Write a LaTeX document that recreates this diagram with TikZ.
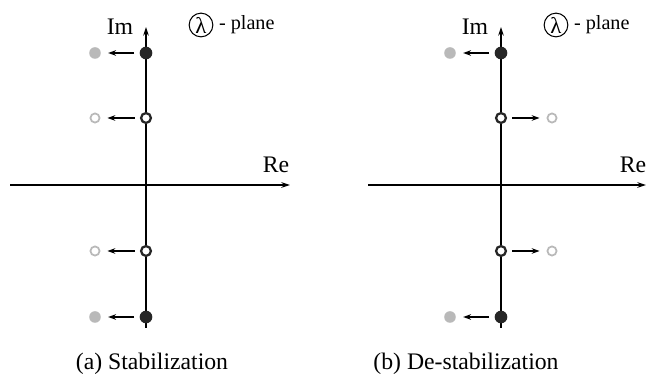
\documentclass[tikz,border=0pt]{standalone}
\usepackage{fontspec}
\setmainfont{Liberation Serif}
\usetikzlibrary{arrows.meta, positioning}

\tikzset{
  pole/.style={circle, fill=black!85, inner sep=0pt, minimum size=7.2pt},
  ring/.style={circle, draw=black!85, line width=1.3pt, fill=white, inner sep=0pt, minimum size=5.6pt},
  gpole/.style={circle, fill=gray!55, inner sep=0pt, minimum size=6.6pt},
  gring/.style={circle, draw=gray!55, line width=1pt, inner sep=0pt, minimum size=5.2pt},
  move/.style={-{Stealth[length=4.5pt,width=3.2pt]}, line width=0.6pt, shorten <=3pt, shorten >=4pt},
  axis/.style={-{Stealth[length=5pt,width=3.2pt]}, line width=0.6pt},
  lbl/.style={font=\fontsize{13.5}{15}\selectfont, inner sep=0pt},
  lam/.style={circle, draw, line width=0.6pt, inner sep=0pt, minimum size=13.5pt, font=\fontsize{13}{15}\selectfont},
  plane/.style={inner sep=0pt, font=\fontsize{11.5}{13}\selectfont}
}

\begin{document}
\begin{tikzpicture}[x=0.02cm, y=-0.02cm]
    \useasboundingbox (0,0) rectangle (654,381);

    % (a) Stabilization
    \coordinate (aW) at (10,185);
    \coordinate (aE) at (290,185);
    \coordinate (aS) at (146,328);
    \coordinate (aN) at (146,27);
    \draw[axis] (aW) -- (aE);
    \draw[axis] (aS) -- (aN);
    \node[lbl] (aRe) at (276,165) {Re};
    \node[lbl] (aIm) at (120,27) {Im};
    \node[lam] (aLam) at (201,25) {λ};
    \node[plane, right=3pt of aLam] (aPlane) {- plane};

    \node[pole] (a1) at (146,53) {};
    \node[ring] (a2) at (146,118) {};
    \node[ring] (a3) at (146,251) {};
    \node[pole] (a4) at (146,317) {};
    \node[gpole] (a1g) at (95,53) {};
    \node[gring] (a2g) at (95,118) {};
    \node[gring] (a3g) at (95,251) {};
    \node[gpole] (a4g) at (95,317) {};
    \draw[move] (a1) -- (a1g);
    \draw[move] (a2) -- (a2g);
    \draw[move] (a3) -- (a3g);
    \draw[move] (a4) -- (a4g);

    \node[lbl] (aCap) at (152,364) {(a) Stabilization};

    % (b) De-stabilization
    \coordinate (bW) at (368,185);
    \coordinate (bE) at (646,185);
    \coordinate (bS) at (501,328);
    \coordinate (bN) at (501,27);
    \draw[axis] (bW) -- (bE);
    \draw[axis] (bS) -- (bN);
    \node[lbl] (bRe) at (633,165) {Re};
    \node[lbl] (bIm) at (475,27) {Im};
    \node[lam] (bLam) at (556,25) {λ};
    \node[plane, right=3pt of bLam] (bPlane) {- plane};

    \node[pole] (b1) at (501,53) {};
    \node[ring] (b2) at (501,118) {};
    \node[ring] (b3) at (501,251) {};
    \node[pole] (b4) at (501,317) {};
    \node[gpole] (b1g) at (450,53) {};
    \node[gring] (b2g) at (552,118) {};
    \node[gring] (b3g) at (552,251) {};
    \node[gpole] (b4g) at (450,317) {};
    \draw[move] (b1) -- (b1g);
    \draw[move] (b2) -- (b2g);
    \draw[move] (b3) -- (b3g);
    \draw[move] (b4) -- (b4g);

    \node[lbl] (bCap) at (466,364) {(b) De-stabilization};
\end{tikzpicture}
\end{document}
